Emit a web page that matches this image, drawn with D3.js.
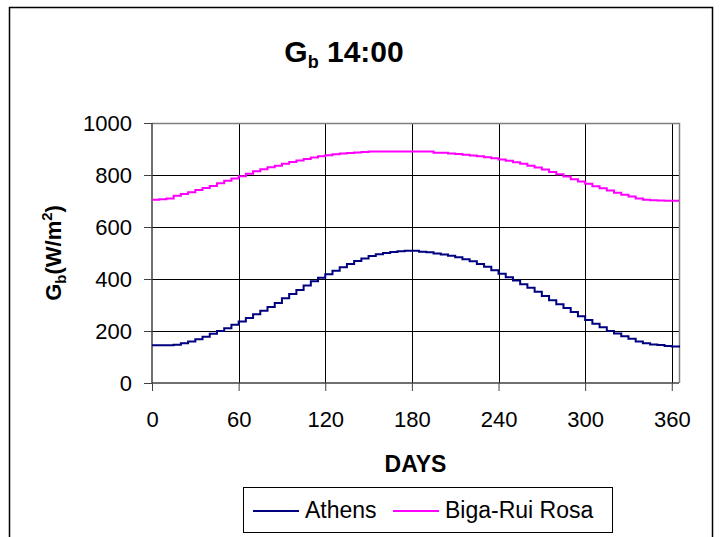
<!DOCTYPE html>
<html>
<head>
<meta charset="utf-8">
<script src="https://cdn.jsdelivr.net/npm/d3@7"></script>
<style>
  body { margin: 0; background: #fff; }
  svg { font-family: Arial, "Liberation Sans", sans-serif; }
</style>
</head>
<body>
<div id="chart"></div>
<script>
// Day of year, sampled every 5 days
const days = d3.range(0, 366, 5);

// Gb at 14:00 (W/m2)
const athens = [
  145, 145, 145, 147, 153, 160, 168, 178, 189, 200, 211, 224, 237, 250, 264, 278,
  292, 308, 326, 342, 358, 375, 391, 405, 418, 432, 445, 458, 469, 479, 488, 495,
  500, 504, 507, 509, 509, 505, 503, 498, 494, 489, 484, 476, 468, 458, 447, 434,
  420, 407, 394, 380, 366, 351, 335, 318, 303, 288, 273, 257, 242, 228, 214, 200,
  190, 180, 170, 160, 153, 148, 146, 142, 140, 137
];
const bigaRuiRosa = [
  705, 707, 710, 720, 727, 734, 742, 750, 758, 768, 778, 787, 795, 805, 814, 822,
  830, 836, 843, 850, 856, 862, 867, 872, 876, 880, 883, 885, 887, 888, 890, 890,
  890, 890, 890, 890, 890, 890, 890, 886, 886, 883, 881, 878, 875, 872, 868, 864,
  860, 855, 849, 843, 836, 829, 821, 812, 803, 794, 784, 775, 766, 757, 749, 740,
  732, 724, 717, 710, 705, 703, 702, 701, 701, 701
];

const seriesNames = ['Athens', 'Biga-Rui Rosa'];
const seriesColors = ['#000080', '#ff00ff'];
const xTicks = [0, 60, 120, 180, 240, 300, 360];
const yTicks = [0, 200, 400, 600, 800, 1000];

const W = 720, H = 537;
const plot = { left: 152, top: 123, right: 679, bottom: 383 };

const svg = d3.select('#chart').append('svg')
  .attr('width', W)
  .attr('height', H);

// outer chart frame (bottom edge falls outside the picture)
svg.append('rect')
  .attr('x', 9.5).attr('y', 7.5)
  .attr('width', 703).attr('height', 540)
  .attr('fill', '#fff')
  .attr('stroke', '#000')
  .attr('stroke-width', 1.5);

const x = d3.scaleLinear().domain([0, 365]).range([plot.left, plot.right]);
const y = d3.scaleLinear().domain([0, 1000]).range([plot.bottom, plot.top]);

// gridlines
svg.append('g')
  .selectAll('line.hgrid')
  .data(yTicks.filter(d => d > 0 && d < 1000))
  .enter().append('line')
  .attr('x1', plot.left).attr('x2', plot.right)
  .attr('y1', d => Math.round(y(d)) + 0.5).attr('y2', d => Math.round(y(d)) + 0.5)
  .attr('stroke', '#000').attr('stroke-width', 1);

svg.append('g')
  .selectAll('line.vgrid')
  .data(xTicks.filter(d => d > 0))
  .enter().append('line')
  .attr('x1', d => Math.round(x(d)) + 0.5).attr('x2', d => Math.round(x(d)) + 0.5)
  .attr('y1', plot.top).attr('y2', plot.bottom)
  .attr('stroke', '#000').attr('stroke-width', 1);

// plot border top/right (grey)
svg.append('path')
  .attr('d', `M${plot.left},${plot.top + 0.5}H${plot.right + 0.5}V${plot.bottom}`)
  .attr('fill', 'none')
  .attr('stroke', '#808080')
  .attr('stroke-width', 1.5);

// axes
const yAxis = d3.axisLeft(y).tickValues(yTicks).tickFormat(d3.format('d'))
  .tickSize(8).tickPadding(12);
const xAxis = d3.axisBottom(x).tickValues(xTicks).tickFormat(d3.format('d'))
  .tickSize(8).tickPadding(20);

const gy = svg.append('g')
  .attr('transform', `translate(${plot.left},0)`)
  .call(yAxis);
const gx = svg.append('g')
  .attr('transform', `translate(0,${plot.bottom})`)
  .call(xAxis);

[gx, gy].forEach(g => {
  g.select('.domain').attr('stroke', '#404040').attr('stroke-width', 1.5);
  g.selectAll('.tick line').attr('stroke', '#404040').attr('stroke-width', 1);
  g.selectAll('.tick text')
    .attr('fill', '#000')
    .style('font-size', '22px')
    .style('font-family', 'Arial, "Liberation Sans", sans-serif');
});
gy.select('.domain').attr('d', `M0,${plot.top}V${plot.bottom}`);
gx.select('.domain').attr('d', `M${plot.left},0H${plot.right}`);

// lines
const line = d3.line()
  .x((d, i) => x(days[i]))
  .y(d => y(d))
  .curve(d3.curveStepAfter);

[athens, bigaRuiRosa].forEach((vals, i) => {
  svg.append('path')
    .datum(vals)
    .attr('fill', 'none')
    .attr('stroke', seriesColors[i])
    .attr('stroke-width', 2)
    .attr('d', line);
});

// title
const title = svg.append('text')
  .attr('x', 344)
  .attr('y', 62)
  .attr('text-anchor', 'middle')
  .style('font-size', '30px')
  .style('font-weight', 'bold');
title.append('tspan').text('G');
title.append('tspan').attr('dy', 6).style('font-size', '18px').text('b');
title.append('tspan').attr('dy', -6).text(' 14:00');

// axis titles
svg.append('text')
  .attr('x', (plot.left + plot.right) / 2)
  .attr('y', 472)
  .attr('text-anchor', 'middle')
  .style('font-size', '23px')
  .style('font-weight', 'bold')
  .text('DAYS');

const yl = svg.append('text')
  .attr('transform', `translate(61,${(plot.top + plot.bottom) / 2}) rotate(-90)`)
  .attr('text-anchor', 'middle')
  .style('font-size', '22px')
  .style('font-weight', 'bold');
yl.append('tspan').text('G');
yl.append('tspan').attr('dy', 5).style('font-size', '15px').text('b');
yl.append('tspan').attr('dy', -5).text('(W/m');
yl.append('tspan').attr('dy', -9).style('font-size', '15px').text('2');
yl.append('tspan').attr('dy', 9).text(')');

// legend
const legend = svg.append('g');
legend.append('rect')
  .attr('x', 243.5).attr('y', 487.5)
  .attr('width', 369).attr('height', 45)
  .attr('fill', '#fff')
  .attr('stroke', '#000')
  .attr('stroke-width', 1);

const legendX = [253, 393];
seriesNames.forEach((name, i) => {
  legend.append('line')
    .attr('x1', legendX[i]).attr('x2', legendX[i] + 46)
    .attr('y1', 511).attr('y2', 511)
    .attr('stroke', seriesColors[i])
    .attr('stroke-width', 2);
  legend.append('text')
    .attr('x', legendX[i] + 52)
    .attr('y', 518)
    .style('font-size', '23px')
    .text(name);
});
</script>
</body>
</html>
